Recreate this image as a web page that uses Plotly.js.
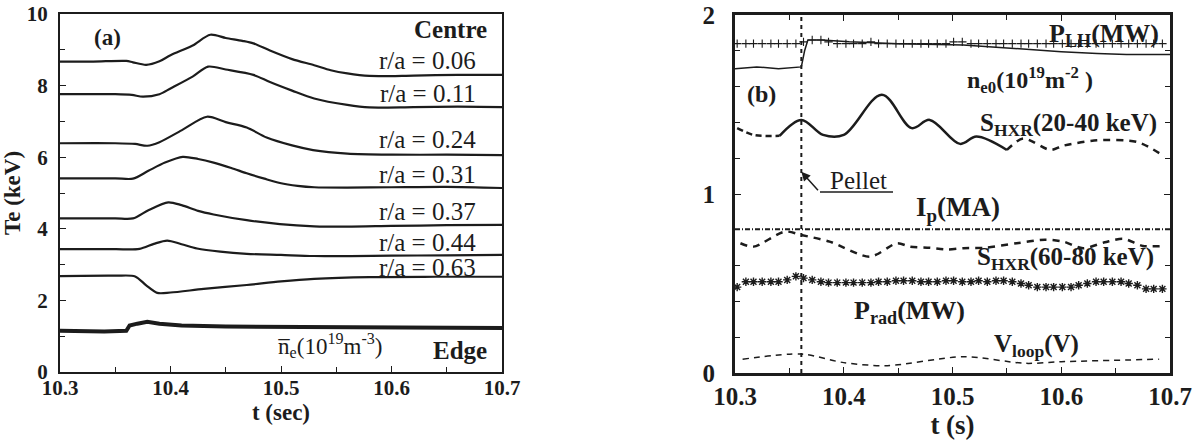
<!DOCTYPE html>
<html>
<head>
<meta charset="utf-8">
<script src="https://cdn.plot.ly/plotly-3.0.1.min.js"></script>
<style>html,body{margin:0;padding:0;background:#fff;}#chart{width:1202px;height:441px;}</style>
</head>
<body>
<div id="chart"></div>
<script>
// ---------- Panel (a): Te profiles ----------
const t06 = [10.30, 10.33, 10.36, 10.366, 10.378, 10.39, 10.40, 10.42, 10.436, 10.45, 10.465, 10.475, 10.49, 10.51, 10.53, 10.545, 10.56, 10.58, 10.62, 10.66, 10.70];
const te06 = [8.67, 8.67, 8.69, 8.65, 8.58, 8.68, 8.85, 9.12, 9.42, 9.33, 9.25, 9.18, 8.98, 8.74, 8.57, 8.43, 8.34, 8.27, 8.28, 8.30, 8.30];
const t11 = [10.30, 10.35, 10.365, 10.375, 10.39, 10.40, 10.42, 10.434, 10.45, 10.475, 10.49, 10.51, 10.53, 10.56, 10.58, 10.62, 10.66, 10.70];
const te11 = [7.76, 7.76, 7.74, 7.69, 7.76, 7.92, 8.25, 8.53, 8.45, 8.30, 8.10, 7.86, 7.64, 7.46, 7.39, 7.40, 7.41, 7.40];
const t24 = [10.30, 10.35, 10.368, 10.379, 10.39, 10.41, 10.433, 10.45, 10.469, 10.487, 10.51, 10.529, 10.56, 10.60, 10.65, 10.70];
const te24 = [6.39, 6.39, 6.37, 6.32, 6.42, 6.75, 7.13, 6.98, 6.83, 6.55, 6.33, 6.20, 6.10, 6.07, 6.07, 6.06];
const t31 = [10.30, 10.35, 10.366, 10.38, 10.395, 10.411, 10.425, 10.439, 10.455, 10.469, 10.485, 10.499, 10.515, 10.53, 10.56, 10.60, 10.65, 10.70];
const te31 = [5.41, 5.41, 5.40, 5.62, 5.85, 6.01, 5.95, 5.85, 5.70, 5.55, 5.40, 5.28, 5.20, 5.16, 5.15, 5.16, 5.17, 5.14];
const t37 = [10.30, 10.35, 10.366, 10.38, 10.398, 10.41, 10.425, 10.439, 10.469, 10.499, 10.53, 10.56, 10.60, 10.65, 10.70];
const te37 = [4.29, 4.29, 4.29, 4.52, 4.74, 4.66, 4.50, 4.40, 4.24, 4.13, 4.07, 4.06, 4.08, 4.10, 4.11];
const t44 = [10.30, 10.35, 10.372, 10.385, 10.397, 10.41, 10.424, 10.445, 10.469, 10.50, 10.53, 10.60, 10.65, 10.70];
const te44 = [3.43, 3.43, 3.44, 3.58, 3.67, 3.57, 3.45, 3.36, 3.30, 3.27, 3.24, 3.25, 3.26, 3.27];
const t63 = [10.30, 10.35, 10.368, 10.378, 10.388, 10.40, 10.43, 10.469, 10.50, 10.53, 10.58, 10.64, 10.70];
const te63 = [2.68, 2.69, 2.67, 2.42, 2.21, 2.22, 2.32, 2.43, 2.53, 2.60, 2.65, 2.66, 2.66];
const tNe = [10.30, 10.32, 10.34, 10.36, 10.363, 10.37, 10.379, 10.39, 10.41, 10.45, 10.50, 10.55, 10.60, 10.65, 10.70];
const neBar = [1.15, 1.14, 1.13, 1.15, 1.30, 1.35, 1.40, 1.35, 1.30, 1.27, 1.26, 1.25, 1.24, 1.23, 1.23];
const radiusLabels = ["r/a = 0.06", "r/a = 0.11", "r/a = 0.24", "r/a = 0.31", "r/a = 0.37", "r/a = 0.44", "r/a = 0.63"];

// ---------- Panel (b): time traces ----------
const pelletTime = 10.361;
const tMark = [10.302, 10.310, 10.317, 10.325, 10.333, 10.340, 10.348, 10.356, 10.363, 10.371, 10.379, 10.386, 10.394, 10.402, 10.409, 10.417, 10.425, 10.432, 10.440, 10.448, 10.455, 10.463, 10.471, 10.478, 10.486, 10.494, 10.501, 10.509, 10.517, 10.524, 10.532, 10.540, 10.547, 10.555, 10.563, 10.570, 10.578, 10.586, 10.593, 10.601, 10.609, 10.616, 10.624, 10.632, 10.639, 10.647, 10.655, 10.662, 10.670, 10.678, 10.685, 10.693];
const pLH = [1.84, 1.84, 1.84, 1.84, 1.84, 1.84, 1.84, 1.84, 1.85, 1.86, 1.86, 1.85, 1.84, 1.84, 1.84, 1.84, 1.85, 1.84, 1.84, 1.84, 1.84, 1.84, 1.84, 1.84, 1.84, 1.84, 1.85, 1.85, 1.84, 1.84, 1.84, 1.84, 1.84, 1.84, 1.84, 1.84, 1.84, 1.84, 1.84, 1.84, 1.84, 1.84, 1.84, 1.84, 1.84, 1.84, 1.84, 1.84, 1.84, 1.84, 1.84, 1.84];
const pRad = [0.48, 0.51, 0.51, 0.51, 0.51, 0.51, 0.52, 0.54, 0.53, 0.52, 0.51, 0.505, 0.505, 0.505, 0.505, 0.505, 0.505, 0.51, 0.51, 0.515, 0.515, 0.515, 0.51, 0.51, 0.51, 0.515, 0.515, 0.51, 0.51, 0.515, 0.51, 0.515, 0.515, 0.51, 0.50, 0.49, 0.48, 0.48, 0.48, 0.48, 0.48, 0.49, 0.50, 0.51, 0.51, 0.51, 0.51, 0.50, 0.49, 0.47, 0.47, 0.47];
const tNe0 = [10.30, 10.32, 10.34, 10.356, 10.361, 10.364, 10.367, 10.38, 10.405, 10.45, 10.51, 10.54, 10.571, 10.60, 10.633, 10.66, 10.70];
const ne0 = [1.70, 1.71, 1.70, 1.71, 1.71, 1.80, 1.86, 1.86, 1.85, 1.84, 1.833, 1.82, 1.806, 1.795, 1.785, 1.78, 1.78];
const tHxrLoA = [10.302, 10.317, 10.341];
const hxrLoA = [1.368, 1.33, 1.325];
const tHxrLoB = [10.341, 10.361, 10.381, 10.40, 10.435, 10.4625, 10.479, 10.507, 10.522, 10.55];
const hxrLoB = [1.325, 1.414, 1.33, 1.33, 1.554, 1.368, 1.414, 1.28, 1.321, 1.246];
const tHxrLoC = [10.55, 10.565, 10.59, 10.602, 10.633, 10.67, 10.695];
const hxrLoC = [1.246, 1.31, 1.246, 1.27, 1.30, 1.29, 1.21];
const tIp = [10.30, 10.70];
const ip = [0.803, 0.803];
const tHxrHi = [10.305, 10.317, 10.346, 10.361, 10.387, 10.424, 10.449, 10.461, 10.479, 10.495, 10.51, 10.53, 10.559, 10.585, 10.602, 10.62, 10.64, 10.657, 10.675, 10.694];
const hxrHi = [0.725, 0.706, 0.79, 0.771, 0.734, 0.65, 0.725, 0.706, 0.70, 0.69, 0.697, 0.70, 0.725, 0.745, 0.734, 0.697, 0.73, 0.75, 0.71, 0.71];
const tVloop = [10.307, 10.361, 10.40, 10.44, 10.51, 10.567, 10.60, 10.69];
const vLoop = [0.077, 0.106, 0.058, 0.041, 0.091, 0.054, 0.063, 0.077];

const SERIF = "Liberation Serif";
const INK = "#1c1c1c";

function line(x, y, xa, ya, w, dash, smooth) {
  const ln = {color: INK, width: w, dash: dash || "solid"};
  if (smooth) { ln.shape = "spline"; ln.smoothing = smooth; }
  return {x: x, y: y, xaxis: xa, yaxis: ya, type: "scatter", mode: "lines", line: ln, hoverinfo: "skip"};
}

const traces = [
  line(t06, te06, "x", "y", 2.2, null, 0.8),
  line(t11, te11, "x", "y", 2.2, null, 0.8),
  line(t24, te24, "x", "y", 2.2, null, 0.8),
  line(t31, te31, "x", "y", 2.2, null, 0.8),
  line(t37, te37, "x", "y", 2.2, null, 0.8),
  line(t44, te44, "x", "y", 2.2, null, 0.8),
  line(t63, te63, "x", "y", 2.2, null, 0.8),
  line(tNe, neBar, "x", "y", 4),
  {x: tMark, y: pLH, xaxis: "x2", yaxis: "y2", type: "scatter", mode: "markers",
   marker: {symbol: "cross-thin-open", size: 6, color: INK, line: {color: INK, width: 1.1}}, hoverinfo: "skip"},
  line(tNe0, ne0, "x2", "y2", 1.5),
  line(tHxrLoA, hxrLoA, "x2", "y2", 2.5, "6px,4px", 0.8),
  line(tHxrLoB, hxrLoB, "x2", "y2", 2.5, null, 1.0),
  line(tHxrLoC, hxrLoC, "x2", "y2", 2.5, "7px,6px", 0.8),
  line(tIp, ip, "x2", "y2", 2, "5px,2px,1px,2px"),
  line(tHxrHi, hxrHi, "x2", "y2", 2.5, "7px,6px", 0.8),
  {x: tMark, y: pRad, xaxis: "x2", yaxis: "y2", type: "scatter", mode: "markers",
   marker: {symbol: "asterisk-open", size: 7, color: INK, line: {color: INK, width: 1.4}}, hoverinfo: "skip"},
  line(tVloop, vLoop, "x2", "y2", 1.5, "6px,5px", 0.8)
];

function px(x) { return x / 1202; }
function py(y) { return 1 - y / 441; }
function ann(text, x, y, size, opts) {
  return Object.assign({xref: "paper", yref: "paper", x: px(x), y: py(y), text: text, showarrow: false,
    xanchor: "center", yanchor: "middle", font: {family: SERIF, size: size, color: INK}}, opts || {});
}

const labelY = [61, 93, 139, 174, 211, 242, 267];
const annotations = [
  ann("<b>(a)</b>", 107, 38, 23),
  ann("<b>Centre</b>", 450, 30, 25),
  ann("<b>Edge</b>", 460, 350, 25),
  ann("n\u0305<sub>e</sub>(10<sup>19</sup>m<sup>-3</sup>)", 330, 345, 23),
  ann("<b>(b)</b>", 761, 94, 24),
  ann("<b>P<sub>LH</sub>(MW)</b>", 1104, 35, 26),
  ann("<b>n<sub>e0</sub>(10<sup>19</sup>m<sup>-2</sup> )</b>", 1030, 80, 24),
  ann("<b>S<sub>HXR</sub>(20-40 keV)</b>", 1068, 124, 25),
  ann("Pellet", 858, 181, 25),
  ann("<b>I<sub>p</sub>(MA)</b>", 958, 209, 27),
  ann("<b>S<sub>HXR</sub>(60-80 keV)</b>", 1065, 258, 25),
  ann("<b>P<sub>rad</sub>(MW)</b>", 909, 312, 26),
  ann("<b>V<sub>loop</sub>(V)</b>", 1036, 345, 25),
  {xref: "x2", yref: "y2", x: pelletTime, y: 1.124, ax: 18, ay: 20, axref: "pixel", ayref: "pixel",
   text: "", showarrow: true, arrowhead: 2, arrowsize: 1.2, arrowwidth: 1.5, arrowcolor: INK, standoff: 0}
];
radiusLabels.forEach(function (s, i) {
  annotations.push(ann(s, 478, labelY[i], 25, {xanchor: "right"}));
});

const shapes = [
  {type: "line", xref: "x2", yref: "y2", x0: pelletTime, x1: pelletTime, y0: 0, y1: 2,
   line: {color: INK, width: 2, dash: "4px,4px"}},
  {type: "line", xref: "paper", yref: "paper", x0: px(820), x1: px(893), y0: py(192), y1: py(192),
   line: {color: INK, width: 1.5}}
];

const tickFontA = {family: SERIF, size: 21, color: INK, weight: "bold"};
const tickFontB = {family: SERIF, size: 25, color: INK, weight: "bold"};

const layout = {
  width: 1202, height: 441,
  margin: {l: 0, r: 0, t: 0, b: 0},
  paper_bgcolor: "#fff", plot_bgcolor: "#fff",
  showlegend: false,
  font: {family: SERIF, color: INK},
  xaxis: {domain: [px(60), px(502)], range: [10.3, 10.7], anchor: "y",
    dtick: 0.1, tick0: 10.3, tickformat: ".1f", ticks: "inside", ticklen: 6, tickcolor: INK,
    minor: {dtick: 0.05, tick0: 10.3, ticks: "inside", ticklen: 5, tickcolor: INK},
    showgrid: false, zeroline: false, showline: true, mirror: true, linecolor: INK, linewidth: 2,
    tickfont: tickFontA, ticklabelstandoff: -4, automargin: false,
    title: {text: "<b>t (sec)</b>", font: {family: SERIF, size: 23, color: INK}, standoff: 0}},
  yaxis: {domain: [py(372), py(14)], range: [0, 10], anchor: "x",
    dtick: 2, ticks: "inside", ticklen: 6, tickcolor: INK,
    minor: {dtick: 1, ticks: "inside", ticklen: 5, tickcolor: INK},
    showgrid: false, zeroline: false, showline: true, mirror: true, linecolor: INK, linewidth: 2,
    tickfont: tickFontA, ticklabelstandoff: 6, automargin: false,
    title: {text: "<b>Te (keV)</b>", font: {family: SERIF, size: 23, color: INK}, standoff: 0}},
  xaxis2: {domain: [px(735), px(1170)], range: [10.3, 10.7], anchor: "y2",
    dtick: 0.1, tick0: 10.3, tickformat: ".1f", ticks: "inside", ticklen: 6, tickcolor: INK,
    minor: {dtick: 0.05, tick0: 10.3, ticks: "inside", ticklen: 5, tickcolor: INK},
    showgrid: false, zeroline: false, showline: true, mirror: "ticks", linecolor: INK, linewidth: 3,
    tickfont: tickFontB, ticklabelstandoff: -1, automargin: false,
    title: {text: "<b>t (s)</b>", font: {family: SERIF, size: 27, color: INK}, standoff: 0}},
  yaxis2: {domain: [py(373), py(15)], range: [0, 2], anchor: "x2",
    dtick: 1, ticks: "inside", ticklen: 6, tickcolor: INK,
    minor: {dtick: 0.2, ticks: "inside", ticklen: 5, tickcolor: INK},
    showgrid: false, zeroline: false, showline: true, mirror: "ticks", linecolor: INK, linewidth: 3,
    tickfont: tickFontB, ticklabelstandoff: 12, automargin: false},
  annotations: annotations,
  shapes: shapes
};

Plotly.newPlot("chart", traces, layout, {staticPlot: true, displayModeBar: false});
</script>
</body>
</html>
